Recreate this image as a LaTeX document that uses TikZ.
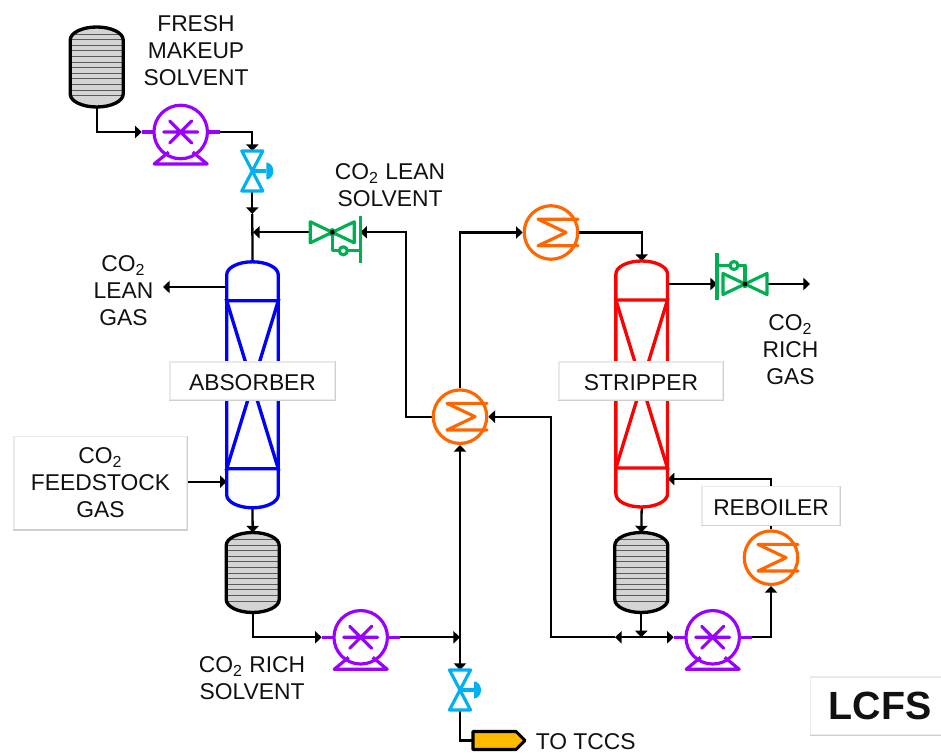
\documentclass[tikz,border=0pt]{standalone}
\usepackage{fontspec}
\setmainfont{Liberation Sans}
\usetikzlibrary{arrows.meta,positioning,calc,backgrounds}
\definecolor{ink}{HTML}{111111}
\definecolor{pumpcol}{HTML}{9900FF}
\definecolor{valvecol}{HTML}{00B0F0}
\definecolor{checkcol}{HTML}{00B050}
\definecolor{hxcol}{HTML}{FF6600}
\definecolor{absorbcol}{HTML}{0000FF}
\definecolor{stripcol}{HTML}{FF0000}
\definecolor{drumfill}{HTML}{D4D4D4}
\definecolor{drumline}{HTML}{5A5A5A}
\definecolor{boxline}{HTML}{EAEAEA}
\definecolor{boxshade}{HTML}{CFCFCF}
\definecolor{prodfill}{HTML}{FFB900}
\newcommand{\cotwo}{CO\textsubscript{2}}

\begin{document}
\begin{tikzpicture}[
  x=0.02cm, y=-0.02cm,
  line/.style={line width=1.3pt, draw=black},
  flow/.style={line, -{Triangle[length=3.8pt,width=7pt]}},
  lab/.style={font=\fontsize{13}{15.3}\selectfont, text=ink, align=center, inner sep=0pt},
  boxedge/.style={draw=boxshade, line width=0.7pt},
  box/.style={draw=boxline, fill=white, line width=0.6pt, minimum width=#1, lab,
    append after command={
      (\tikzlastnode.south west) edge[boxedge] (\tikzlastnode.south east)
      (\tikzlastnode.south east) edge[boxedge] (\tikzlastnode.north east)}},
  tag/.style={text height=10.4pt, text depth=0pt},
  pics/drum/.style={code={
    \path[fill=drumfill] (-26.5,-27) arc[start angle=180, end angle=360, x radius=26.5, y radius=13]
      -- (26.5,27) arc[start angle=0, end angle=180, x radius=26.5, y radius=13] -- cycle;
    \foreach \yy in {-33,-27.4,...,34}
      \draw[drumline, line width=0.5pt] (-26,\yy) -- (26,\yy);
    \draw[line width=1.9pt, line join=round] (-26.5,-27) arc[start angle=180, end angle=360, x radius=26.5, y radius=13]
      -- (26.5,27) arc[start angle=0, end angle=180, x radius=26.5, y radius=13] -- cycle;
    \coordinate (-n) at (0,-40);
    \coordinate (-s) at (0,40);
  }},
  pics/pump/.style={code={
    \begin{scope}[pumpcol, line width=1.8pt]
      \node[circle, draw=pumpcol, minimum size=1.07cm, inner sep=0pt] (-body) at (0,0) {};
      \draw (-39,0) -- (-26.7,0) (26.7,0) -- (39,0);
      \draw[line cap=round] (-17,0) -- (17,0) (-11,-11) -- (11,11) (-11,11) -- (11,-11);
      \draw[line join=round] (-12,20) -- (-26.5,32) -- (26.5,32) -- (12,20);
    \end{scope}
    \coordinate (-in) at (-39,0);
    \coordinate (-out) at (39,0);
  }},
  pics/ctrlvalve/.style={code={
    \begin{scope}[valvecol, line width=1.8pt, line join=round]
      \draw (-10.5,-20) -- (10.5,-20) -- (-10.5,20) -- (10.5,20) -- cycle;
      \draw (0,0) -- (14,0);
      \fill (14,-8.5) arc[start angle=-90, end angle=90, x radius=7, y radius=8.5] -- cycle;
    \end{scope}
    \coordinate (-in) at (0,-20);
    \coordinate (-out) at (0,20);
  }},
  pics/checkvalve/.style={code={
    \begin{scope}[checkcol, line width=1.8pt, line join=round]
      \draw (-22,-10.5) -- (22,10.5) -- (22,-10.5) -- (-22,10.5) -- cycle;
      \draw (0,0) -- (0,18.5) -- (28,18.5);
      \draw (28,-16.5) -- (28,31);
      \draw[fill=white] (11,18.5) circle[radius=4];
      \fill (0,0) circle[radius=4.2];
    \end{scope}
    \fill (0,0) circle[radius=2.4];
    \coordinate (-end) at (-22,0);
    \coordinate (-bar) at (28,0);
  }},
  pics/hxchanger/.style={code={
    \node[circle, draw=hxcol, line width=1.8pt, minimum size=1.07cm, inner sep=0pt] (-body) at (0,0) {};
    \draw[hxcol, line width=1.8pt, line join=round, line cap=round]
      (27,-13.3) -- (-13,-13.3) -- (15,0) -- (-13,13.3) -- (27,13.3);
  }},
  pics/tower/.style={code={
    \draw[line width=1.9pt, line join=round] (-25.8,-110) arc[start angle=180, end angle=360, x radius=25.8, y radius=13]
      -- (25.8,110) arc[start angle=0, end angle=180, x radius=25.8, y radius=13] -- cycle;
    \draw[line width=1.9pt] (-25.8,-84) -- (25.8,-84) -- (-25.8,84) -- (25.8,84) -- cycle;
    \coordinate (-n) at (0,-123);
    \coordinate (-s) at (0,123);
  }},
]
\useasboundingbox (0,0) rectangle (941,753);

%% ---------- vessels ----------
\pic (makeupdrum) at (96.7,67) {drum};
\pic (richdrum) at (252.7,572.5) {drum};
\pic (leandrum) at (641.3,572.5) {drum};
\pic[absorbcol] (absorber) at (252.5,384.8) {tower};
\pic[stripcol] (stripper) at (641.7,384) {tower};

%% ---------- pumps and valves ----------
\pic (makeuppump) at (180.7,132) {pump};
\pic (richpump) at (360.7,637.3) {pump};
\pic (leanpump) at (712.7,637.3) {pump};
\pic (makeupvalve) at (252.3,171) {ctrlvalve};
\pic (tccsvalve) at (460,690) {ctrlvalve};
\pic (leanvalve) at (332.3,232.3) {checkvalve};
\pic[rotate=180] (richvalve) at (745,284) {checkvalve};

%% ---------- exchangers ----------
\pic (condenser) at (551,232.5) {hxchanger};
\pic (crossover) at (460,416.7) {hxchanger};
\pic (reboilerhx) at (771,557.7) {hxchanger};

%% ---------- product ----------
\draw[fill=prodfill, line width=1.8pt, line join=round]
  (473,731.5) -- (516,731.5) -- (525,740.5) -- (516,749.5) -- (473,749.5) -- cycle;
\coordinate (tccs) at (473,740.5);

%% ---------- labels ----------
\node[lab] (fresh) at (196,51) {FRESH\\MAKEUP\\SOLVENT};
\node[lab] (leansolvent) at (390,185.5) {\cotwo{} LEAN\\SOLVENT};
\node[lab] (leangas) at (123.5,291) {\cotwo\\LEAN\\GAS};
\node[lab] (richsolvent) at (252,678) {\cotwo{} RICH\\SOLVENT};
\node[lab] (richgas) at (790.5,350) {\cotwo\\RICH\\GAS};
\node[lab, anchor=west] (totccs) at (535.5,742) {TO TCCS};
\node[box=3.3cm, minimum height=0.76cm, tag] (absorberbox) at (252.5,381) {ABSORBER};
\node[box=3.28cm, minimum height=0.76cm, tag] (stripperbox) at (641,381) {STRIPPER};
\node[box=3.46cm, minimum height=1.86cm] (feedbox) at (100.5,483) {\cotwo\\FEEDSTOCK\\GAS};
\node[box=2.76cm, minimum height=0.77cm, tag] (reboilerbox) at (771,506) {REBOILER};
\node[box=2.77cm, minimum height=1.16cm, font=\fontsize{22.4}{24}\selectfont\bfseries] (lcfs) at (880,706) {LCFS};

%% ---------- junctions ----------
\coordinate (gasport) at (226.7,287);
\coordinate (gastip) at (163,287);
\coordinate (feedport) at (226.7,481.7);
\coordinate (makeupmark) at (252.3,214);
\coordinate (leantee) at (253,232.3);
\coordinate (richtee) at (460,637.3);
\coordinate (richport) at (667.7,284);
\coordinate (richtip) at (810,284);
\coordinate (returnport) at (667.7,479);
\coordinate (leantee2) at (641.3,637.3);
\coordinate (leanmark) at (615,637.3);

%% ---------- connectors ----------
\begin{scope}[on background layer]
\draw[flow] (makeupdrum-s) |- (makeuppump-in);
\draw[flow] (makeuppump-out) -| (makeupvalve-in);
\draw[flow] (makeupvalve-out) -- (makeupmark);
\draw[line] (makeupmark) -- (absorber-n);
\draw[flow] (leanvalve-end) -- (leantee);
\draw[flow] (gasport) -- (gastip);
\draw[flow] (feedbox.east |- feedport) -- (feedport);
\draw[flow] (absorber-s) -- (richdrum-n);
\draw[flow] (richdrum-s) |- (richpump-in);
\draw[flow] (richpump-out) -- (richtee);
\draw[flow] (richtee) -- (crossover-body.south);
\draw[flow] (richtee) -- (tccsvalve-in);
\draw[line] (tccsvalve-out) |- (tccs);
\draw[flow] (crossover-body.north) |- (condenser-body.west);
\draw[flow] (condenser-body.east) -| (stripper-n);
\draw[flow] (crossover-body.west) -| (406,232.3) -- (leanvalve-bar);
\draw[flow] (richport) -- (richvalve-bar);
\draw[flow] (richvalve-end) -- (richtip);
\draw[flow] (stripper-s) -- (leandrum-n);
\draw[flow] (leandrum-s) -- (leantee2);
\draw[flow] (leantee2) -- (leanpump-in);
\draw[flow] (leantee2) -- (leanmark);
\draw[flow] (leanmark) -| (550.7,416.7) -- (crossover-body.east);
\draw[flow] (leanpump-out) -| (reboilerhx-body.south);
\draw[flow] (reboilerhx-body.north) |- (returnport);
\end{scope}

\end{tikzpicture}
\end{document}
